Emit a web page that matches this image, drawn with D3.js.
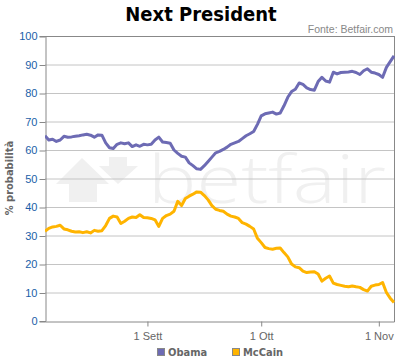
<!DOCTYPE html>
<html><head><meta charset="utf-8">
<script src="https://cdn.jsdelivr.net/npm/d3@7"></script>
<style>body{margin:0;background:#fff}svg{display:block}</style>
</head><body>
<script>
const title = "Next President";
const source = "Fonte: Betfair.com";
const yLabel = "% probabilità";
const startDate = "2008-08-05";
const endDate = "2008-11-05";
const xTickDates = ["2008-09-01", "2008-10-01", "2008-11-01"];
const xTickLabels = ["1 Sett", "1 Ott", "1 Nov"];
const yTicks = [0,10,20,30,40,50,60,70,80,90,100];
const seriesNames = ["Obama", "McCain"];
const seriesColors = ["#6d6bb4", "#ffb400"];
const obama = [65,63.5,63.8,63,63.5,64.8,64.5,64.6,64.8,65,65.3,65.5,65.2,64.5,65.3,65.2,62.5,60.8,60.5,62,62.5,62.2,62.5,61.2,61.8,61.3,62,61.8,62,63.5,64.5,62.8,62.6,62.4,60,58.8,57.8,57.5,55.5,54.5,53.4,53.2,54.5,56,57.5,59,59.5,60.2,61,62,62.5,63,64,65,65.7,66.5,69,72,72.7,73,73.3,72.6,73,75.5,78.5,80.5,81.3,83.5,83,81.8,81.2,81,84,85.5,84.2,83.8,87.3,86.7,87.2,87.3,87.4,87.6,87.2,86.5,87.8,88.5,87.3,87,86.5,85.5,89,91,93];
const mccain = [31.5,32.5,33,33.2,33.6,32.3,32,31.5,31.2,31.3,31,31.3,30.9,31.8,31.5,31.7,33.5,36,36.8,36.5,34.2,35,36,36.5,36.3,37.3,36.3,36.2,36,35.5,33.2,36,37,37.5,38.5,42,40.5,43,43.8,44.5,45.3,45.2,44,42.5,40.5,39.2,38.8,38.5,37.5,36.8,36.5,36,34.5,34,33.2,32.3,29,27.5,25.8,25.4,25.2,25.5,25.6,24,22.5,20,19,18.7,17.5,17,17.2,17.3,16.5,14,15,15.8,13.3,12.8,12.5,12.2,12,12.3,12,11.8,11,10.5,12.2,12.6,12.8,13.5,10,8,6.5];

const W = 415, H = 360;
const m = {left:45, right:21, top:36, bottom:39};
const parse = d3.utcParse("%Y-%m-%d");
const t0 = parse(startDate), t1 = parse(endDate);
const dates = d3.utcDay.range(t0, d3.utcDay.offset(t1, 1));

const svg = d3.select("body").append("svg").attr("width", W).attr("height", H);
const x = d3.scaleUtc().domain([t0, t1]).range([m.left, W - m.right]);
const y = d3.scaleLinear().domain([0, 100]).range([H - m.bottom, m.top]);

// watermark
const wm = svg.append("g").attr("fill", "#f0f0f0");
wm.append("path").attr("d", "M56,184 L82,158 L109,184 L97,184 L97,202 L69,202 L69,184 Z");
wm.append("path").attr("d", "M109,157 L127,157 L127,166 L138,166 L118,184 L99,166 L109,166 Z");
wm.append("text").attr("x", 148).attr("y", 203).attr("font-family", "Open Sans, DejaVu Sans")
  .attr("font-size", 66).attr("font-weight", 300).attr("textLength", 238).attr("lengthAdjust", "spacingAndGlyphs").text("betfair");

// grid
svg.append("g").selectAll("line").data(yTicks.filter(v => v > 0 && v < 100)).join("line")
  .attr("x1", m.left).attr("x2", W - m.right).attr("y1", d => y(d) + 0.5).attr("y2", d => y(d) + 0.5)
  .attr("stroke", "#c4c4c4").attr("stroke-width", 1);

// y axis
const yAx = svg.append("g").attr("transform", `translate(${m.left + 0.5},0)`)
  .call(d3.axisLeft(y).tickValues(yTicks).tickSize(6).tickPadding(2));
yAx.select(".domain").attr("stroke", "#888");
yAx.selectAll(".tick line").attr("stroke", "#888").attr("transform", "translate(0,0.5)");
yAx.selectAll(".tick text").attr("fill", "#1a5ea8").attr("font-family", "Liberation Sans, Arial, sans-serif").attr("font-size", 11);

// x axis
const xAx = svg.append("g").attr("transform", `translate(0,${H - m.bottom + 0.5})`)
  .call(d3.axisBottom(x).tickValues(xTickDates.map(parse)).tickFormat((d, i) => xTickLabels[i]).tickSize(5).tickSizeOuter(0).tickPadding(6));
xAx.select(".domain").attr("stroke", "#888");
xAx.selectAll(".tick line").attr("stroke", "#888");
xAx.selectAll(".tick text").attr("fill", "#666").attr("font-family", "Liberation Sans, Arial, sans-serif").attr("font-size", 11);

// top & right border
svg.append("line").attr("x1", m.left).attr("x2", W - m.right + 0.5).attr("y1", m.top + 0.5).attr("y2", m.top + 0.5).attr("stroke", "#888");
svg.append("line").attr("x1", W - m.right + 0.5).attr("x2", W - m.right + 0.5).attr("y1", m.top).attr("y2", H - m.bottom + 1).attr("stroke", "#888");

// lines
const clip = svg.append("clipPath").attr("id", "c").append("rect")
  .attr("x", m.left).attr("y", m.top).attr("width", W - m.left - m.right + 1).attr("height", H - m.top - m.bottom);
const line = d3.line().x((d, i) => x(dates[i])).y(d => y(d));
[obama, mccain].forEach((s, k) => {
  svg.append("path").datum(s).attr("d", line).attr("fill", "none").attr("clip-path", "url(#c)")
    .attr("stroke", seriesColors[k]).attr("stroke-width", 3).attr("stroke-linejoin", "round");
});

// title and source
svg.append("text").attr("x", 201).attr("y", 21).attr("text-anchor", "middle")
  .attr("font-family", "DejaVu Sans Condensed, DejaVu Sans").attr("font-stretch", "condensed").attr("font-weight", "bold")
  .attr("font-size", 20).attr("fill", "#000").text(title);
svg.append("text").attr("x", 393).attr("y", 33).attr("text-anchor", "end")
  .attr("font-family", "Liberation Sans, Arial, sans-serif").attr("font-size", 10.5).attr("fill", "#888").text(source);

// y label
svg.append("text").attr("transform", "translate(13,178) rotate(-90)").attr("text-anchor", "middle")
  .attr("font-family", "DejaVu Sans Condensed, DejaVu Sans").attr("font-stretch", "condensed").attr("font-weight", "bold")
  .attr("font-size", 11).attr("fill", "#666").text(yLabel);

// legend
const lx = [157, 232];
const lg = svg.append("g");
seriesNames.forEach((n, k) => {
  lg.append("rect").attr("x", lx[k] + 0.5).attr("y", 348.5).attr("width", 7).attr("height", 7)
    .attr("fill", seriesColors[k]).attr("stroke", "#888").attr("stroke-width", 1);
  lg.append("text").attr("x", lx[k] + 11).attr("y", 356)
    .attr("font-family", "DejaVu Sans Condensed, DejaVu Sans").attr("font-stretch", "condensed").attr("font-weight", "bold")
    .attr("font-size", 11).attr("fill", "#666").text(n);
});
</script>
</body></html>
